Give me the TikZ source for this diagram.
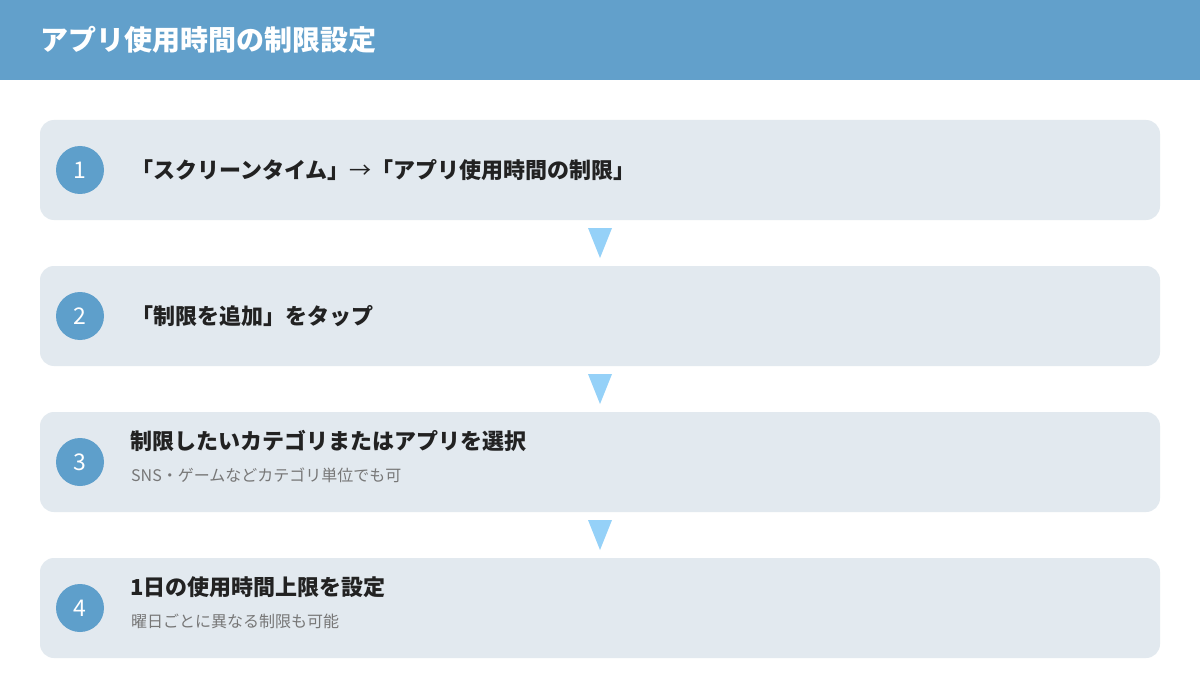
\documentclass[tikz,border=0pt]{standalone}
\usepackage{fontspec}
\setmainfont{Noto Sans CJK JP}
\definecolor{hdr}{HTML}{62A0CB}
\definecolor{boxc}{HTML}{E2E9EF}
\definecolor{circ}{HTML}{5E9FCB}
\definecolor{tri}{HTML}{95D1F8}
\definecolor{txt}{HTML}{222222}
\definecolor{sub}{HTML}{777777}
\begin{document}
\begin{tikzpicture}[x=1pt,y=-1pt,
  stepbox/.style={fill=boxc, draw=none, rounded corners=14pt},
  numc/.style={circle, fill=circ, minimum size=48pt, inner sep=0pt, text=white, font=\fontsize{23}{23}\selectfont},
  ttl/.style={anchor=west, inner sep=0pt, text=txt, font=\fontsize{22}{22}\selectfont\bfseries},
  subt/.style={anchor=west, inner sep=0pt, text=sub, font=\fontsize{16}{16}\selectfont},
  arr/.style={fill=tri, draw=none}]
\useasboundingbox (0,0) rectangle (1200,698);
\fill[white] (0,0) rectangle (1200,698);
\fill[hdr] (0,0) rectangle (1200,80);
\node[anchor=west, inner sep=0pt, text=white, font=\fontsize{28}{28}\selectfont\bfseries] (title) at (40,40) {アプリ使用時間の制限設定};
% boxes
\fill[stepbox] (40,120) rectangle (1160,220);
\fill[stepbox] (40,266) rectangle (1160,366);
\fill[stepbox] (40,412) rectangle (1160,512);
\fill[stepbox] (40,558) rectangle (1160,658);
\node[numc] (n1) at (80,170) {1};
\node[numc] (n2) at (80,316) {2};
\node[numc] (n3) at (80,462) {3};
\node[numc] (n4) at (80,608) {4};
\node[ttl] (t1) at (131,170) {「スクリーンタイム」{\mdseries →}「アプリ使用時間の制限」};
\node[ttl] (t2) at (131,316) {「制限を追加」をタップ};
\node[ttl] (t3) at (130,441) {制限したいカテゴリまたはアプリを選択};
\node[subt] (s3) at (131,475) {SNS・ゲームなどカテゴリ単位でも可};
\node[ttl] (t4) at (130,587) {1日の使用時間上限を設定};
\node[subt] (s4) at (131,621) {曜日ごとに異なる制限も可能};
% arrows
\fill[arr] (588,228) -- (612,228) -- (600,258) -- cycle;
\fill[arr] (588,374) -- (612,374) -- (600,404) -- cycle;
\fill[arr] (588,520) -- (612,520) -- (600,550) -- cycle;
\end{tikzpicture}
\end{document}
